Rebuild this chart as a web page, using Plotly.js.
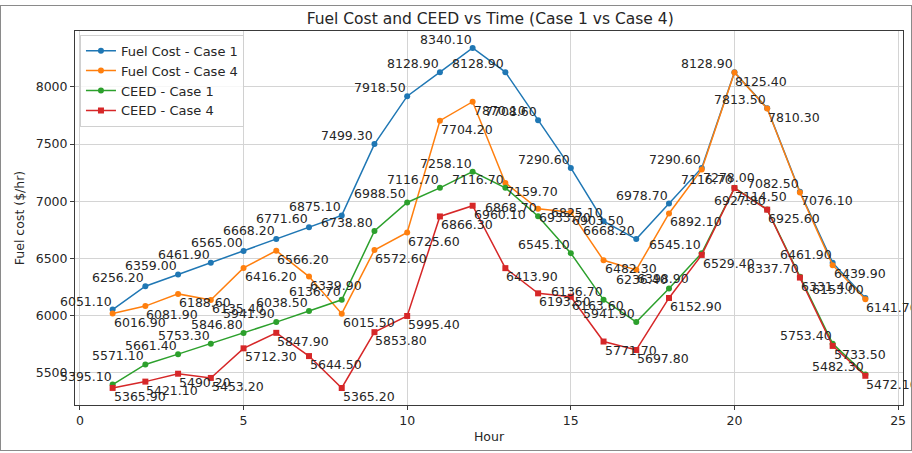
<!DOCTYPE html>
<html>
<head>
<meta charset="utf-8">
<script src="https://cdn.plot.ly/plotly-3.0.1.min.js"></script>
<style>
  html, body { margin: 0; padding: 0; background: #ffffff; }
  #chart { width: 912px; height: 453px; }
  #frame { position: absolute; left: 0px; top: 5px; width: 910px; height: 444px;
           border: 1px solid #8a8a8a; pointer-events: none; }
</style>
</head>
<body>
<div id="chart"></div>
<div id="frame"></div>
<script>
const hours = [1,2,3,4,5,6,7,8,9,10,11,12,13,14,15,16,17,18,19,20,21,22,23,24];

const fuelCase1 = [6051.10, 6256.20, 6359.00, 6461.90, 6565.00, 6668.20, 6771.60, 6875.10,
                   7499.30, 7918.50, 8128.90, 8340.10, 8128.90, 7708.60, 7290.60, 6825.10,
                   6668.20, 6978.70, 7290.60, 8128.90, 7813.50, 7082.50, 6461.90, 6153.00];

const fuelCase4 = [6016.90, 6081.90, 6188.60, 6135.40, 6416.20, 6566.20, 6339.90, 6015.50,
                   6572.60, 6725.60, 7704.20, 7870.10, 7159.70, 6933.70, 6903.50, 6482.30,
                   6398.90, 6892.10, 7278.00, 8125.40, 7810.30, 7076.10, 6439.90, 6141.70];

const ceedCase1 = [5395.10, 5571.10, 5661.40, 5753.30, 5846.80, 5941.90, 6038.50, 6136.70,
                   6738.80, 6988.50, 7116.70, 7258.10, 7116.70, 6868.70, 6545.10, 6136.70,
                   5941.90, 6236.40, 6545.10, 7116.70, 6927.80, 6337.70, 5753.40, 5482.30];

const ceedCase4 = [5365.90, 5421.10, 5490.20, 5453.20, 5712.30, 5847.90, 5644.50, 5365.20,
                   5853.80, 5995.40, 6866.30, 6960.10, 6413.90, 6193.50, 6163.60, 5771.70,
                   5697.80, 6152.90, 6529.40, 7114.50, 6925.60, 6331.40, 5733.50, 5472.10];

const seriesNames = ["Fuel Cost - Case 1", "Fuel Cost - Case 4", "CEED - Case 1", "CEED - Case 4"];
const xTicks = [0, 5, 10, 15, 20, 25];
const yTicks = [5500, 6000, 6500, 7000, 7500, 8000];

const colors = ["#1f77b4", "#ff7f0e", "#2ca02c", "#d62728"];
const symbols = ["circle", "circle", "circle", "square"];
const allSeries = [fuelCase1, fuelCase4, ceedCase1, ceedCase4];
// label anchoring per series: Case 1 labels up-left, Case 4 labels down-right
const labelAnchor = [["right", "bottom"], ["left", "top"], ["right", "bottom"], ["left", "top"]];

const FONT = "DejaVu Sans";
const TXT = "#262626";

const traces = allSeries.map((vals, i) => ({
  x: hours,
  y: vals,
  name: seriesNames[i],
  type: "scatter",
  mode: "lines+markers",
  cliponaxis: false,
  line: { color: colors[i], width: 1.5 },
  marker: { color: colors[i], symbol: symbols[i], size: 6 }
}));

const annotations = [];
allSeries.forEach((vals, i) => {
  vals.forEach((v, k) => {
    annotations.push({
      x: hours[k], y: v, xref: "x", yref: "y",
      text: v.toFixed(2),
      showarrow: false,
      xanchor: labelAnchor[i][0], yanchor: labelAnchor[i][1],
      borderpad: 0,
      font: { family: FONT, size: 12.5, color: TXT }
    });
  });
});

// axis ranges with 5% margins, like the original plotting library
const allVals = [].concat(fuelCase1, fuelCase4, ceedCase1, ceedCase4);
const yMin = Math.min(...allVals), yMax = Math.max(...allVals);
const yPad = (yMax - yMin) * 0.05;
const xMin = Math.min(...hours), xMax = Math.max(...hours);
const xPad = (xMax - xMin) * 0.05;

const layout = {
  width: 912,
  height: 453,
  margin: { l: 75, r: 9, t: 31, b: 48, pad: 0 },
  paper_bgcolor: "#ffffff",
  plot_bgcolor: "#ffffff",
  font: { family: FONT, size: 12.5, color: TXT },
  title: {
    text: "Fuel Cost and CEED vs Time (Case 1 vs Case 4)",
    font: { family: FONT, size: 15.5, color: TXT },
    x: 0.5375, xanchor: "center", y: 0.958, yanchor: "middle"
  },
  xaxis: {
    range: [xMin - xPad, xMax + xPad],
    tickvals: xTicks,
    ticktext: xTicks.map(String),
    showgrid: true, gridcolor: "#d4d4d4", gridwidth: 1,
    zeroline: false,
    showline: true, linecolor: "#3a3a3a", linewidth: 1, mirror: true,
    ticks: "outside", ticklen: 4, tickcolor: "#3a3a3a",
    tickfont: { family: FONT, size: 12.5, color: TXT },
    title: { text: "Hour", font: { family: FONT, size: 12.5, color: TXT }, standoff: 5 }
  },
  yaxis: {
    range: [yMin - yPad, yMax + yPad],
    tickvals: yTicks,
    ticktext: yTicks.map(String),
    showgrid: true, gridcolor: "#d4d4d4", gridwidth: 1,
    zeroline: false,
    showline: true, linecolor: "#3a3a3a", linewidth: 1, mirror: true,
    ticks: "outside", ticklen: 4, tickcolor: "#3a3a3a",
    tickfont: { family: FONT, size: 12.5, color: TXT },
    title: { text: "Fuel cost ($/hr)", font: { family: FONT, size: 12.5, color: TXT }, standoff: 8 }
  },
  legend: {
    x: 0.006, y: 0.99, xanchor: "left", yanchor: "top",
    bgcolor: "rgba(255,255,255,0.8)",
    bordercolor: "#d0d0d0", borderwidth: 1,
    font: { family: FONT, size: 13, color: TXT },
    tracegroupgap: 0, itemwidth: 30
  },
  annotations: annotations,
  showlegend: true
};

Plotly.newPlot("chart", traces, layout, { displayModeBar: false, staticPlot: true });
</script>
</body>
</html>
